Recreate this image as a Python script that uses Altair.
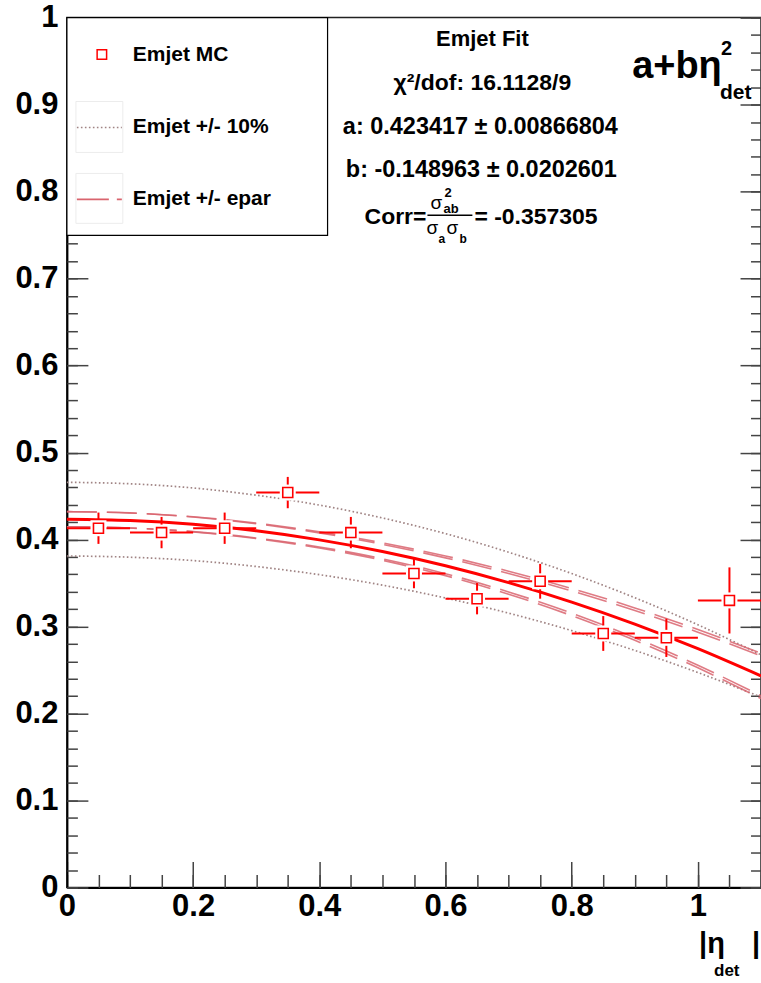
import altair as alt
import pandas as pd

# ---------------- data ----------------
eta_bin = [0.05, 0.15, 0.25, 0.35, 0.45, 0.55, 0.65, 0.75, 0.85, 0.95, 1.05]
eta_halfwidth = [0.05] * 11
emjet_mc = [0.413, 0.408, 0.413, 0.454, 0.408, 0.361, 0.332, 0.352, 0.292, 0.287, 0.330]
emjet_err = [0.018, 0.018, 0.018, 0.018, 0.018, 0.017, 0.018, 0.020, 0.020, 0.022, 0.038]

curve_eta = [0.0, 0.1, 0.2, 0.3, 0.4, 0.5, 0.6, 0.7, 0.8, 0.9, 1.0, 1.1]
fit_vals = [0.4234, 0.4219, 0.4175, 0.4100, 0.3996, 0.3862, 0.3698, 0.3504, 0.3281, 0.3028, 0.2745, 0.2432]
plus10 = [0.4658, 0.4641, 0.4593, 0.4510, 0.4396, 0.4248, 0.4068, 0.3854, 0.3609, 0.3331, 0.3020, 0.2675]
minus10 = [0.3811, 0.3797, 0.3758, 0.3690, 0.3596, 0.3476, 0.3328, 0.3154, 0.2953, 0.2725, 0.2471, 0.2189]
epar_up_a = [0.4321, 0.4305, 0.4259, 0.4182, 0.4077, 0.3945, 0.3789, 0.3610, 0.3409, 0.3184, 0.2935, 0.2661]
epar_lo_a = [0.4147, 0.4133, 0.4091, 0.4018, 0.3915, 0.3779, 0.3607, 0.3398, 0.3153, 0.2872, 0.2555, 0.2203]
epar_up_b = [0.4321, 0.4306, 0.4262, 0.4189, 0.4089, 0.3962, 0.3811, 0.3636, 0.3437, 0.3214, 0.2965, 0.2692]
epar_lo_b = [0.4147, 0.4132, 0.4088, 0.4011, 0.3903, 0.3762, 0.3585, 0.3372, 0.3125, 0.2842, 0.2525, 0.2172]

x_major = [0, 0.2, 0.4, 0.6, 0.8, 1.0]
x_minor = [round(0.05 * i, 2) for i in range(23)]
y_major = [round(0.1 * i, 1) for i in range(11)]
y_minor = [round(0.02 * i, 2) for i in range(51)]

# ---------------- tables ----------------
pts = pd.DataFrame({"eta": eta_bin, "hw": eta_halfwidth, "eff": emjet_mc, "err": emjet_err})
pts["x1"] = pts["eta"] - pts["hw"]
pts["x2"] = pts["eta"] + pts["hw"]
pts["y1"] = pts["eff"] - pts["err"]
pts["y2"] = pts["eff"] + pts["err"]

cur = pd.DataFrame({
    "eta": curve_eta, "fit": fit_vals, "p10": plus10, "m10": minus10,
    "ua": epar_up_a, "la": epar_lo_a, "ub": epar_up_b, "lb": epar_lo_b,
})

W, H = 695, 871
FONT = "Liberation Sans"
xs = alt.Scale(domain=[0, 1.1], nice=False, zero=False)
ys = alt.Scale(domain=[0, 1], nice=False, zero=False)
TICKC = "#444444"


def X(f, axis=None):
    return alt.X(f, type="quantitative", scale=xs, axis=axis)


def Y(f, axis=None):
    return alt.Y(f, type="quantitative", scale=ys, axis=axis)


def tick_axis(orient, values, size, offset):
    return alt.Axis(orient=orient, values=values, tickSize=size, offset=offset,
                    labels=False, domain=False, grid=False, ticks=True,
                    tickColor=TICKC, tickWidth=1.5, title=None)


x_lab_axis = alt.Axis(orient="bottom", values=x_major, format=".1~f", ticks=False, tickSize=0,
                      grid=False, domain=True, domainColor="black", domainWidth=2,
                      labelFont=FONT, labelFontWeight="bold", labelFontSize=31,
                      labelColor="black", labelPadding=4, title=None, labelFlush=False)
y_lab_axis = alt.Axis(orient="left", values=y_major, format=".1~f", ticks=False, tickSize=0,
                      grid=False, domain=True, domainColor="black", domainWidth=2,
                      labelFont=FONT, labelFontWeight="bold", labelFontSize=31,
                      labelColor="black", labelPadding=9, title=None, labelFlush=False)

DOT = "#a08484"
DASH = "#d9646e"

base = alt.Chart(cur)
layers = [
    base.mark_line(color=DOT, strokeDash=[1.6, 2.4], strokeWidth=1.7, interpolate="monotone")
        .encode(x=X("eta", x_lab_axis), y=Y("p10", y_lab_axis)),
    base.mark_line(color=DOT, strokeDash=[1.6, 2.4], strokeWidth=1.7, interpolate="monotone")
        .encode(x=X("eta", tick_axis("top", x_major, 26, -H)), y=Y("m10", tick_axis("right", y_major, 21, -W))),
    base.mark_line(color=DASH, strokeDash=[30, 10], strokeWidth=1.6, opacity=0.85, interpolate="monotone")
        .encode(x=X("eta", tick_axis("top", x_minor, 13, -H)), y=Y("ua", tick_axis("right", y_minor, 10.5, -W))),
    base.mark_line(color=DASH, strokeDash=[30, 10], strokeWidth=1.6, opacity=0.85, interpolate="monotone")
        .encode(x=X("eta"), y=Y("la", tick_axis("left", y_major, 21, -W))),
    base.mark_line(color=DASH, strokeDash=[30, 10], strokeWidth=1.6, opacity=0.85, interpolate="monotone")
        .encode(x=X("eta"), y=Y("ub", tick_axis("left", y_minor, 10.5, -W))),
    base.mark_line(color=DASH, strokeDash=[30, 10], strokeWidth=1.6, opacity=0.85, interpolate="monotone")
        .encode(x=X("eta"), y=Y("lb")),
    base.mark_line(color="#ff0000", strokeWidth=3, interpolate="monotone")
        .encode(x=X("eta"), y=Y("fit")),
]

pbase = alt.Chart(pts)
layers += [
    pbase.mark_rule(color="#ff0000", strokeWidth=2).encode(x=X("x1"), x2="x2", y=Y("eff")),
    pbase.mark_rule(color="#ff0000", strokeWidth=2).encode(x=X("eta"), y=Y("y1"), y2="y2"),
    pbase.mark_point(shape="square", filled=True, fill="white", size=256, opacity=1, strokeWidth=0)
        .encode(x=X("eta"), y=Y("eff")),
    pbase.mark_point(shape="square", filled=False, color="#ff0000", size=100, opacity=1, strokeWidth=1.6)
        .encode(x=X("eta"), y=Y("eff")),
]

one = alt.Data(values=[{"k": 1}])


def txt(s, x, y, size=22, align="left", weight="bold", baseline="middle"):
    return alt.Chart(one).mark_text(text=s, align=align, baseline=baseline, font=FONT,
                                    fontSize=size, fontWeight=weight, color="black").encode(
        x=alt.value(x), y=alt.value(y))


def box(x1, x2, y1, y2, stroke, sw=1.0):
    return alt.Chart(one).mark_rect(fill="white", stroke=stroke, strokeWidth=sw).encode(
        x=alt.value(x1), x2=alt.value(x2), y=alt.value(y1), y2=alt.value(y2))


def hline(x1, x2, y, color, sw=1.5, dash=None):
    kw = dict(color=color, strokeWidth=sw)
    if dash:
        kw["strokeDash"] = dash
    return alt.Chart(one).mark_rule(**kw).encode(x=alt.value(x1), x2=alt.value(x2), y=alt.value(y))


# legend
layers += [
    box(0, 261, 0, 218, "black", 1.2),
    alt.Chart(one).mark_point(shape="square", filled=False, color="#ff0000", size=90, opacity=1,
                              strokeWidth=1.5).encode(x=alt.value(35), y=alt.value(37)),
    txt("Emjet MC", 66, 37, 21),
    box(9, 56, 84, 135, "#ececec"),
    hline(10, 55, 110, DOT, 1.7, [1.6, 2.4]),
    txt("Emjet +/- 10%", 66, 110, 21),
    box(9, 56, 156, 206, "#ececec"),
    hline(10, 55, 182, DASH, 1.8, [32, 8]),
    txt("Emjet +/- epar", 66, 182, 21),
]

# fit results text
layers += [
    txt("Emjet Fit", 416, 21, 22, align="center"),
    txt("χ²/dof: 16.1128/9", 416, 65, 23, align="center"),
    txt("a: 0.423417 ± 0.00866804", 414, 110, 23.5, align="center"),
    txt("b: -0.148963 ± 0.0202601", 415, 153, 23.5, align="center"),
    txt("Corr=", 360, 200, 23, align="right"),
    hline(361, 406, 198, "black", 1.5),
    txt("σ", 364, 186, 19, weight="normal"),
    txt("2", 378, 176, 13),
    txt("ab", 377, 192, 13),
    txt("σ", 360, 211, 19, weight="normal"),
    txt("a", 372, 222, 12),
    txt("σ", 380, 211, 19, weight="normal"),
    txt("b", 393, 222, 12),
    txt("= -0.357305", 408, 200, 23),
    # formula
    txt("a+bη", 566, 49, 38),
    txt("2", 655, 31, 20),
    txt("det", 654, 75, 21),
    # x-axis title
    txt("|η", 633, 928, 29),
    txt("det", 648, 955, 17),
    txt("|", 686, 928, 29),
]

chart = alt.layer(*layers).resolve_axis(x="independent", y="independent").properties(
    width=W, height=H,
    padding={"left": 67, "top": 17, "right": 0, "bottom": 95},
    autosize=alt.AutoSizeParams(type="none"),
    background="white",
).configure_view(stroke="#222222", strokeWidth=1.5)

chart.save("out.html", embed_options={"renderer": "svg", "actions": False})
